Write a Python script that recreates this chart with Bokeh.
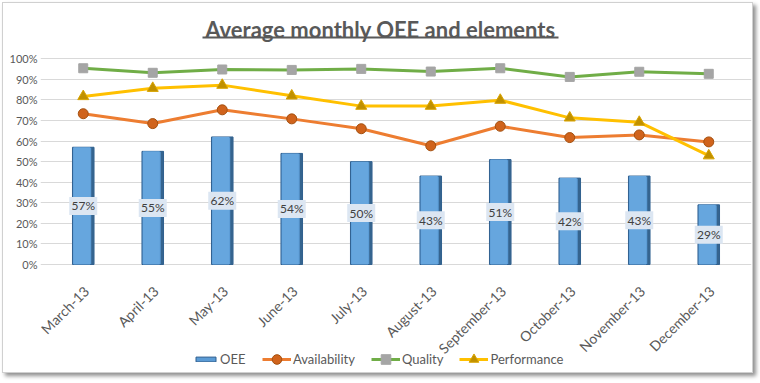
import math
from bokeh.plotting import figure
from bokeh.models import (ColumnDataSource, FactorRange, Range1d, NumeralTickFormatter,
                          Label, Legend, LegendItem, BoxAnnotation, FixedTicker)
from bokeh.transform import dodge
from bokeh.core.properties import value
from bokeh.embed import file_html
from bokeh.resources import INLINE

months = ["March-13", "April-13", "May-13", "June-13", "July-13", "August-13",
          "September-13", "October-13", "November-13", "December-13"]
oee = [0.57, 0.55, 0.62, 0.54, 0.50, 0.43, 0.51, 0.42, 0.43, 0.29]
availability = [0.733, 0.685, 0.752, 0.708, 0.660, 0.577, 0.672, 0.617, 0.630, 0.596]
quality = [0.954, 0.932, 0.948, 0.946, 0.951, 0.938, 0.954, 0.912, 0.937, 0.927]
performance = [0.817, 0.857, 0.872, 0.820, 0.770, 0.770, 0.799, 0.713, 0.692, 0.529]
y_ticks = [0, 0.1, 0.2, 0.3, 0.4, 0.5, 0.6, 0.7, 0.8, 0.9, 1.0]

FONT = "Lato"
GREY = "#595959"

src = ColumnDataSource(dict(
    month=months, oee=oee, mid=[v / 2 for v in oee],
    lbl=[f"{round(v * 100)}%" for v in oee],
    availability=availability, quality=quality, performance=performance,
))

# figure 749x369; frame spans full height, left panel 37px for the y axis.
W, H = 749, 369
PX_PER_UNIT = 205.7
ZERO_FROM_BOTTOM = 108
p = figure(width=W, height=H,
           x_range=FactorRange(factors=months, range_padding=0.115, range_padding_units="absolute"),
           y_range=Range1d(-ZERO_FROM_BOTTOM / PX_PER_UNIT, (H - ZERO_FROM_BOTTOM) / PX_PER_UNIT),
           x_axis_location=None, output_backend="svg", toolbar_location=None,
           min_border_left=37, min_border_right=1, min_border_top=0, min_border_bottom=0)
p.outline_line_color = None
p.background_fill_color = "white"
p.border_fill_color = "white"
p.styles = {"margin-left": "3px", "margin-top": "3px",
            "box-shadow": "0 0 0 1px #d0d0d0, 3px 3px 4px 1px #909090"}
p.xgrid.visible = False

# grid / y axis
p.yaxis.ticker = FixedTicker(ticks=y_ticks)
p.yaxis.formatter = NumeralTickFormatter(format="0%")
p.yaxis.axis_line_color = None
p.yaxis.major_tick_line_color = None
p.yaxis.minor_tick_line_color = None
p.yaxis.major_tick_out = 0
p.yaxis.major_tick_in = 0
p.yaxis.major_label_text_font = FONT
p.yaxis.major_label_text_font_size = "11px"
p.yaxis.major_label_text_color = GREY
p.yaxis.major_label_standoff = 3
p.ygrid.grid_line_color = "#d9d9d9"
p.ygrid.grid_line_width = 1

# category labels along the 0% line (rotated 45 degrees)
p.text(x="month", y=0, text="month", source=src, angle=math.pi / 4,
       text_align="right", text_baseline="middle", x_offset=3, y_offset=24,
       text_font=value(FONT), text_font_size="14px", text_color=GREY)

# bars (dark edge + lighter face for a bevelled look)
bars = p.vbar(x="month", top="oee", width=0.31, source=src,
              fill_color="#5b9bd5", line_color="#2f5f8f", line_width=1)
p.vbar(x=dodge("month", -0.02, range=p.x_range), top="oee", width=0.24, source=src,
       fill_color="#66a6de", line_color=None)
p.vbar(x=dodge("month", 0.135, range=p.x_range), top="oee", width=0.04, source=src,
       fill_color="#35648f", line_color=None)

# value labels (boxes + text)
p.rect(x="month", y="mid", width=28, height=18, width_units="screen", height_units="screen",
       source=src, fill_color="#dce6f2", line_color=None)
p.text(x="month", y="mid", text="lbl", source=src, text_align="center",
       text_baseline="middle", text_font=value(FONT), text_font_size="12px",
       text_color="#404040")

# lines
al = p.line("month", "availability", source=src, line_color="#ed7d31", line_width=3)
am = p.scatter("month", "availability", source=src, marker="circle", size=10,
               fill_color="#d0631c", line_color="#a4500f")
ql = p.line("month", "quality", source=src, line_color="#70ad47", line_width=3)
qm = p.scatter("month", "quality", source=src, marker="square", size=9,
               fill_color="#a5a5a5", line_color="#a5a5a5")
pl = p.line("month", "performance", source=src, line_color="#ffc000", line_width=3)
pm = p.scatter("month", "performance", source=src, marker="triangle", size=11,
               fill_color="#c09000", line_color="#d9a400")

common = dict(orientation="horizontal", padding=0, margin=0, label_standoff=2,
              label_text_font=FONT, label_text_font_size="13px", label_text_color=GREY,
              background_fill_alpha=0, border_line_color=None)
legend1 = Legend(items=[LegendItem(label="OEE", renderers=[bars])],
                 location=(153, 5), glyph_width=25, glyph_height=6, **common)
legend2 = Legend(items=[
    LegendItem(label="Availability", renderers=[al, am]),
    LegendItem(label="Quality", renderers=[ql, qm]),
    LegendItem(label="Performance", renderers=[pl, pm]),
], location=(222, 1), glyph_width=29, glyph_height=24, spacing=16, **common)
p.add_layout(legend1)
p.add_layout(legend2)

# title + underline
title = Label(x=340, y=343, x_units="screen", y_units="screen",
              text="Average monthly OEE and elements", text_align="center",
              text_baseline="alphabetic", text_font=FONT, text_font_style="bold",
              text_font_size="22px", text_color=GREY)
p.add_layout(title)
underline = BoxAnnotation(left=162, right=518, top=336, bottom=334,
                          left_units="screen", right_units="screen",
                          top_units="screen", bottom_units="screen",
                          fill_color=GREY, fill_alpha=1, line_color=None)
p.add_layout(underline)

open("out.html", "w").write(file_html(p, INLINE))
